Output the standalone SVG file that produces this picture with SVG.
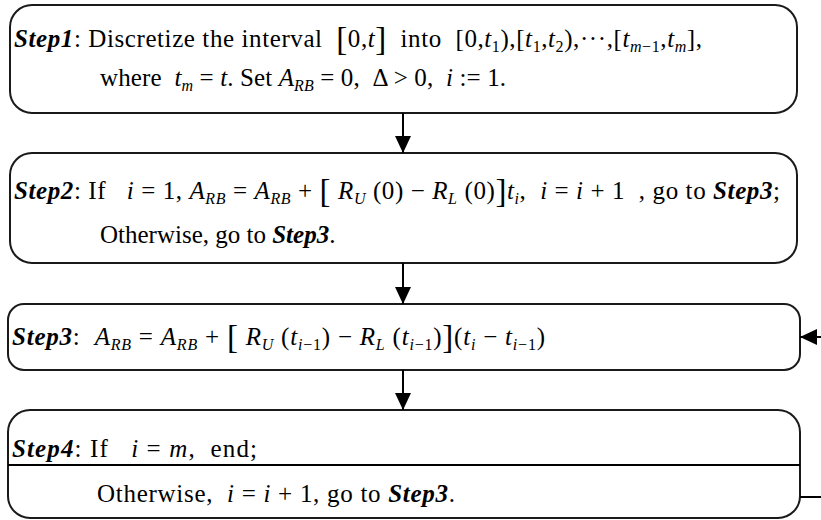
<svg xmlns="http://www.w3.org/2000/svg" width="821" height="520" viewBox="0 0 821 520">
<style>
text{font-family:"Liberation Serif","Times New Roman",serif;font-size:25px;fill:#000}
.b{font-weight:bold;font-style:italic}
.i{font-style:italic}
.s{font-size:16px}
.L{font-size:33px}
.box{fill:#fff;stroke:#1a1a1a;stroke-width:2}
.conn{fill:none;stroke:#000;stroke-width:2}
</style>
<defs>
<marker id="ah" markerUnits="userSpaceOnUse" markerWidth="18" markerHeight="16" refX="17" refY="8" orient="auto"><path d="M0,0 L17,8 L0,16 z" fill="#000"/></marker>
</defs>
<g id="step1">
<rect class="box" x="10" y="5" width="787" height="108" rx="22"/>
<text x="14" y="47" textLength="688" lengthAdjust="spacing" xml:space="preserve"><tspan class="b">Step1</tspan>: Discretize the interval  <tspan class="L" dy="3">[</tspan><tspan dy="-3">0,</tspan><tspan class="i">t</tspan><tspan class="L" dy="3">]</tspan><tspan dy="-3">  into  [0,</tspan><tspan class="i">t</tspan><tspan class="s" dy="5">1</tspan><tspan dy="-5">),[</tspan><tspan class="i">t</tspan><tspan class="s" dy="5">1</tspan><tspan dy="-5">,</tspan><tspan class="i">t</tspan><tspan class="s" dy="5">2</tspan><tspan dy="-5">),···,[</tspan><tspan class="i">t</tspan><tspan class="s" dy="5"><tspan class="i">m</tspan>−1</tspan><tspan dy="-5">,</tspan><tspan class="i">t</tspan><tspan class="s i" dy="5">m</tspan><tspan dy="-5">],</tspan></text>
<text x="100" y="86" textLength="406" lengthAdjust="spacing" xml:space="preserve">where  <tspan class="i">t</tspan><tspan class="s i" dy="5">m</tspan><tspan dy="-5"> = </tspan><tspan class="i">t</tspan>. Set <tspan class="i">A</tspan><tspan class="s i" dy="5">RB</tspan><tspan dy="-5"> = 0,  Δ &gt; 0,  </tspan><tspan class="i">i</tspan> := 1.</text>
</g>
<g id="step2">
<rect class="box" x="10" y="153" width="787" height="110" rx="22"/>
<text x="14" y="199" textLength="766" lengthAdjust="spacing" xml:space="preserve"><tspan class="b">Step2</tspan>: If   <tspan class="i">i</tspan> = 1, <tspan class="i">A</tspan><tspan class="s i" dy="5">RB</tspan><tspan dy="-5"> = </tspan><tspan class="i">A</tspan><tspan class="s i" dy="5">RB</tspan><tspan dy="-5"> + </tspan><tspan class="L" dy="3">[</tspan><tspan class="i" dy="-3"> R</tspan><tspan class="s i" dy="5">U</tspan><tspan dy="-5"> (0) − </tspan><tspan class="i">R</tspan><tspan class="s i" dy="5">L</tspan><tspan dy="-5"> (0)</tspan><tspan class="L" dy="3">]</tspan><tspan class="i" dy="-3">t</tspan><tspan class="s i" dy="5">i</tspan><tspan dy="-5">,  </tspan><tspan class="i">i</tspan> = <tspan class="i">i</tspan> + 1  , go to <tspan class="b">Step3</tspan>;</text>
<text x="100" y="243" xml:space="preserve">Otherwise, go to <tspan class="b">Step3</tspan>.</text>
</g>
<g id="step3">
<rect class="box" x="8" y="304" width="792" height="66" rx="16"/>
<text x="12" y="345" textLength="533" lengthAdjust="spacing" xml:space="preserve"><tspan class="b">Step3</tspan>:  <tspan class="i">A</tspan><tspan class="s i" dy="5">RB</tspan><tspan dy="-5"> = </tspan><tspan class="i">A</tspan><tspan class="s i" dy="5">RB</tspan><tspan dy="-5"> + </tspan><tspan class="L" dy="3">[</tspan><tspan class="i" dy="-3"> R</tspan><tspan class="s i" dy="5">U</tspan><tspan dy="-5"> (</tspan><tspan class="i">t</tspan><tspan class="s" dy="5"><tspan class="i">i</tspan>−1</tspan><tspan dy="-5">) − </tspan><tspan class="i">R</tspan><tspan class="s i" dy="5">L</tspan><tspan dy="-5"> (</tspan><tspan class="i">t</tspan><tspan class="s" dy="5"><tspan class="i">i</tspan>−1</tspan><tspan dy="-5">)</tspan><tspan class="L" dy="3">]</tspan><tspan dy="-3">(</tspan><tspan class="i">t</tspan><tspan class="s i" dy="5">i</tspan><tspan dy="-5"> − </tspan><tspan class="i">t</tspan><tspan class="s" dy="5"><tspan class="i">i</tspan>−1</tspan><tspan dy="-5">)</tspan></text>
</g>
<g id="step4">
<rect class="box" x="8" y="410" width="792" height="108" rx="22"/>
<line class="conn" x1="8" y1="465" x2="800" y2="465"/>
<text x="12" y="457" textLength="245" lengthAdjust="spacing" xml:space="preserve"><tspan class="b">Step4</tspan>: If   <tspan class="i">i</tspan> = <tspan class="i">m</tspan>,  end;</text>
<text x="97" y="502" textLength="358" lengthAdjust="spacing" xml:space="preserve">Otherwise,  <tspan class="i">i</tspan> = <tspan class="i">i</tspan> + 1, go to <tspan class="b">Step3</tspan>.</text>
</g>
<g id="connectors">
<path class="conn" d="M403,113 V153" marker-end="url(#ah)"/>
<path class="conn" d="M403,263 V304" marker-end="url(#ah)"/>
<path class="conn" d="M403,370 V410" marker-end="url(#ah)"/>
<path class="conn" d="M800,497 H835 V337 H800" marker-end="url(#ah)"/>
</g>
</svg>
